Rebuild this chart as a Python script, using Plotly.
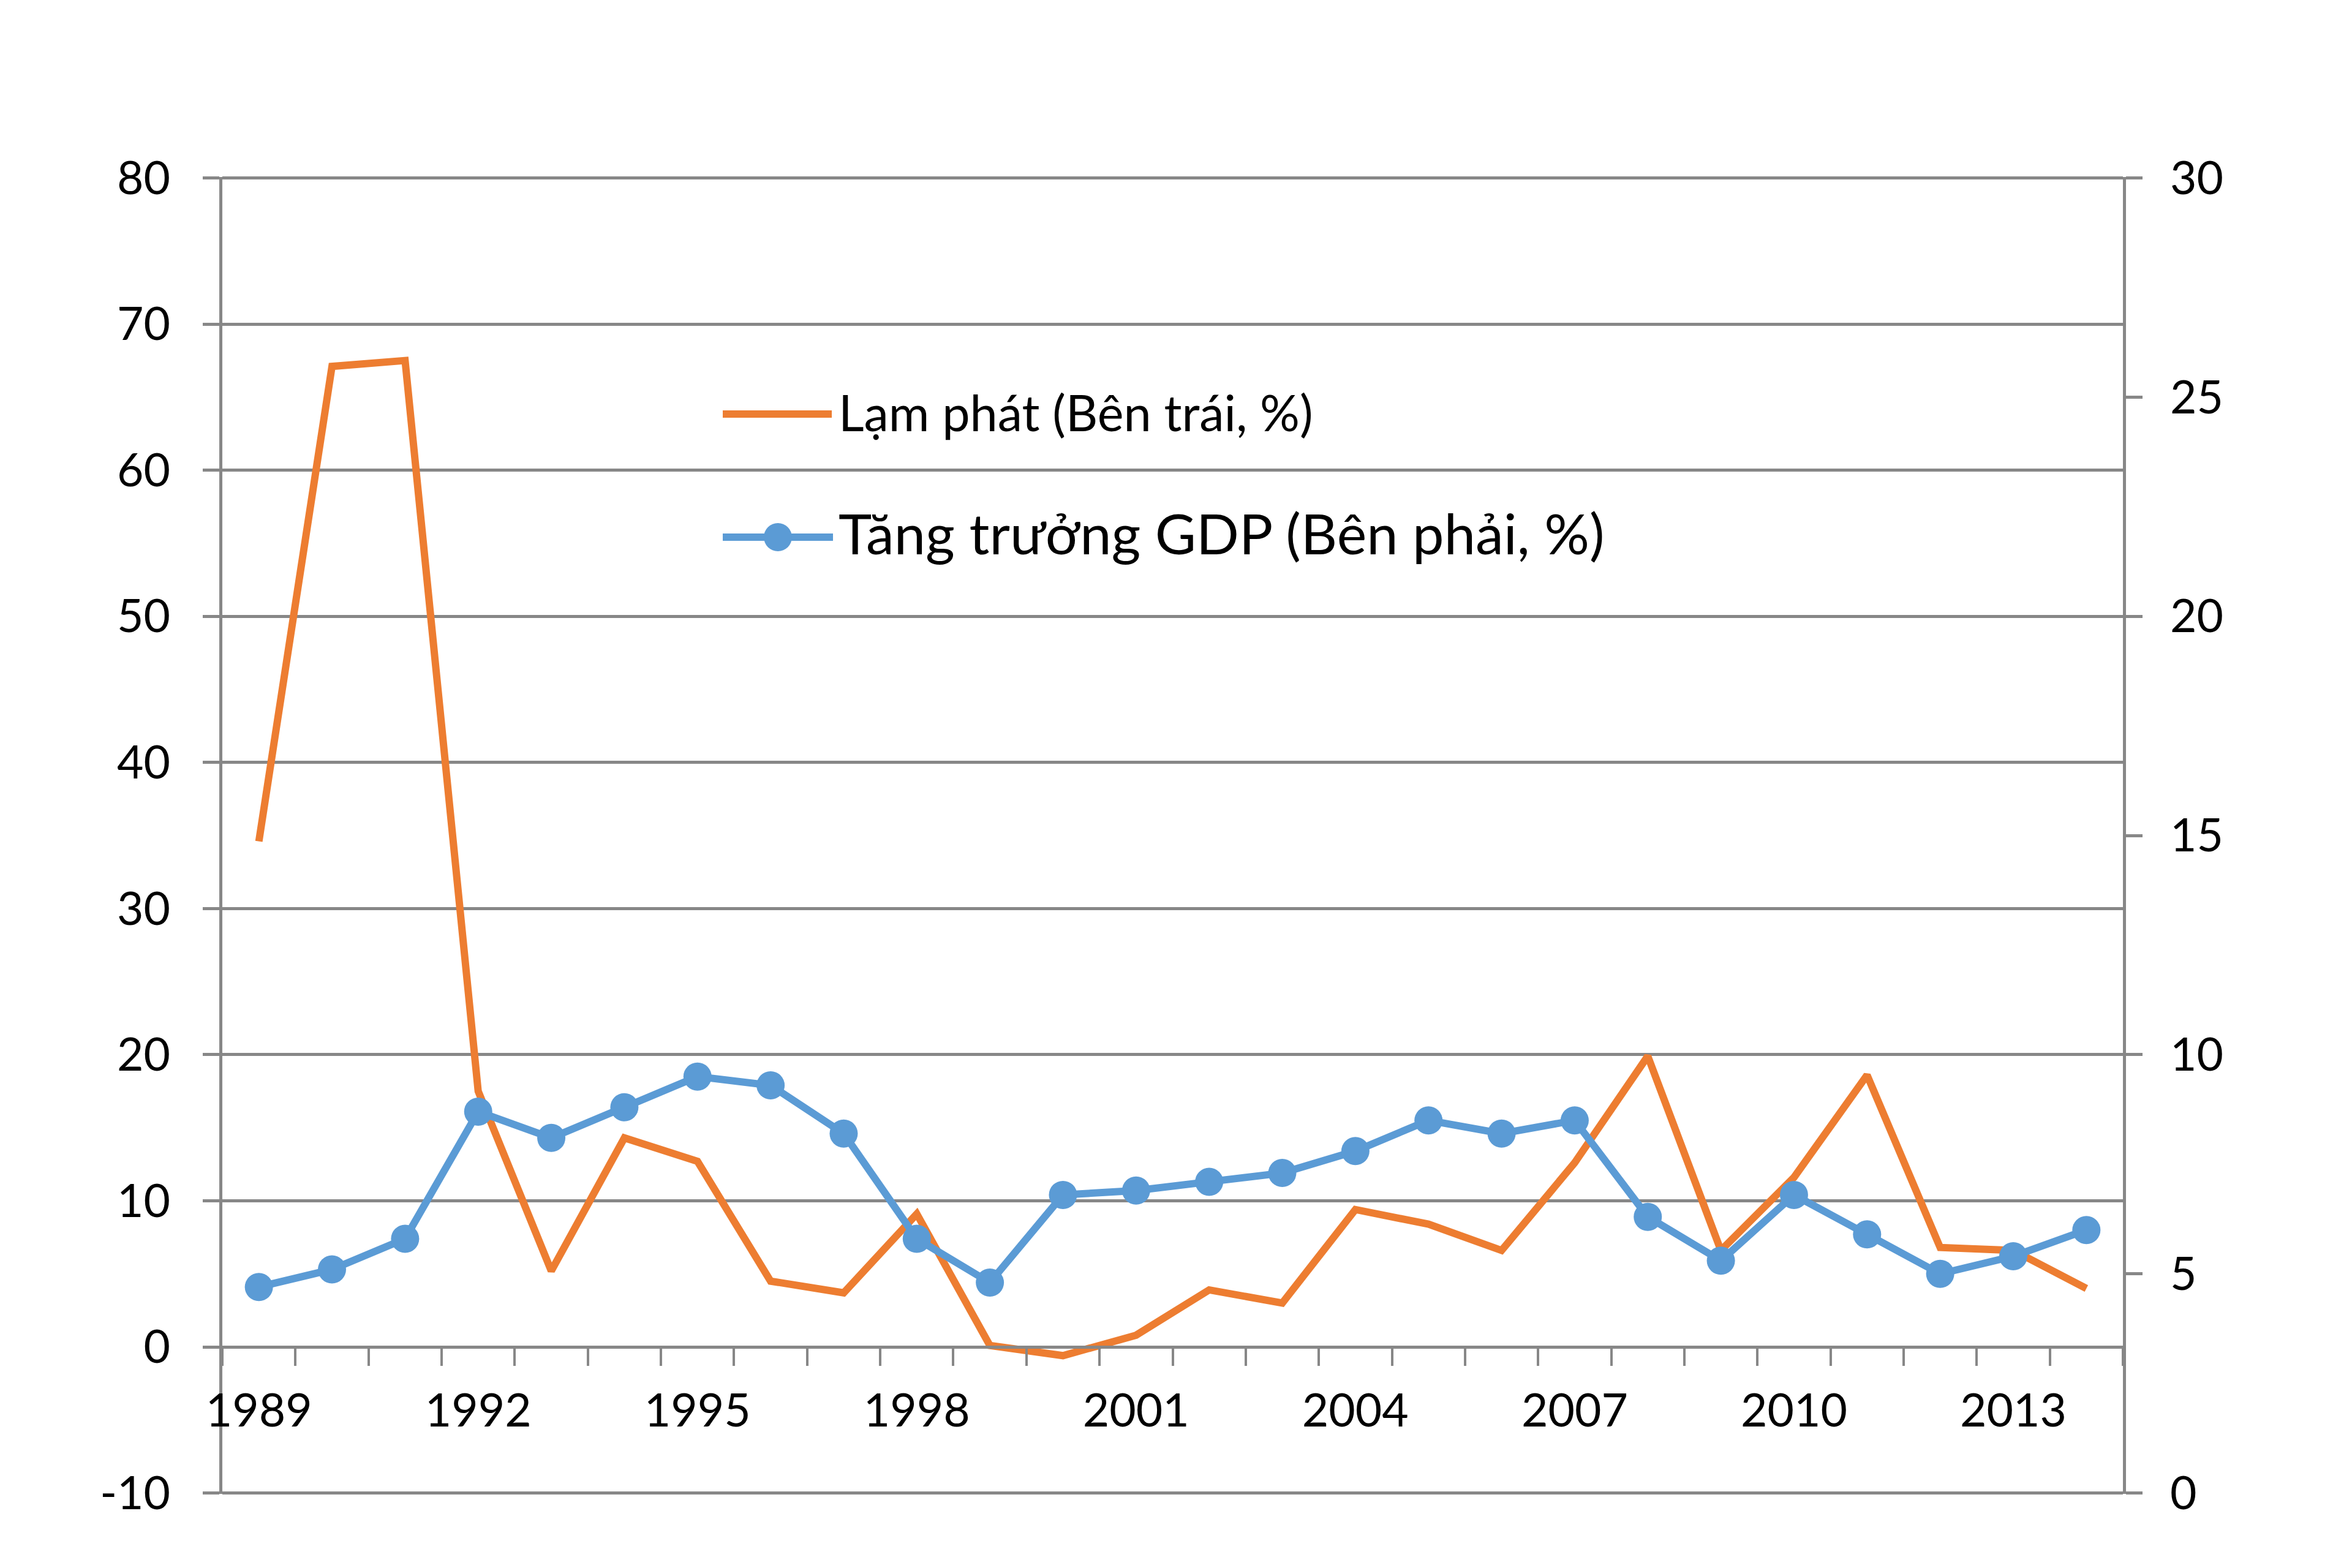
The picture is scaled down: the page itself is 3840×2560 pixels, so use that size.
import plotly.graph_objects as go

# ---------------- data ----------------
years = list(range(1989, 2015))
inflation = [34.6, 67.1, 67.5, 17.5, 5.2, 14.3, 12.7, 4.5, 3.7, 9.1, 0.1, -0.6,
             0.8, 3.9, 3.0, 9.4, 8.4, 6.6, 12.6, 19.9, 6.6, 11.6, 18.6, 6.8, 6.6, 4.0]
gdp = [4.7, 5.1, 5.8, 8.7, 8.1, 8.8, 9.5, 9.3, 8.2, 5.8, 4.8, 6.8,
       6.9, 7.1, 7.3, 7.8, 8.5, 8.2, 8.5, 6.3, 5.3, 6.8, 5.9, 5.0, 5.4, 6.0]
name_infl = "Lạm phát (Bên trái, %)"
name_gdp = "Tăng trưởng GDP (Bên phải, %)"
xtick_vals = [1989, 1992, 1995, 1998, 2001, 2004, 2007, 2010, 2013]
xtick_text = [str(v) for v in xtick_vals]
ytick_vals = [-10, 0, 10, 20, 30, 40, 50, 60, 70, 80]
ytick_text = [str(v) for v in ytick_vals]
y2tick_vals = [0, 5, 10, 15, 20, 25, 30]
y2tick_text = [str(v) for v in y2tick_vals]

# ---------------- style ----------------
W, H = 3840, 2560
ML, MR, MT, MB = 355, 382, 281, 129
PW, PH = W - ML - MR, H - MT - MB
ORANGE = "#ED7D31"
BLUE = "#5B9BD5"
GRID = "#878787"
FONT = "Lato"
TICKFONT = dict(family=FONT, size=75, color="#000000")
EPS = 0.06  # tiny padding so the edge gridlines (-10 and 80) are drawn


def px2paper(x, y):
    return (x - ML) / PW, (H - MB - y) / PH


fig = go.Figure()
fig.add_trace(go.Scatter(x=years, y=inflation, name=name_infl, mode="lines",
                         line=dict(color=ORANGE, width=12), yaxis="y",
                         showlegend=False))
fig.add_trace(go.Scatter(x=years, y=gdp, name=name_gdp, mode="lines+markers",
                         line=dict(color=BLUE, width=12),
                         marker=dict(color=BLUE, size=46), yaxis="y2",
                         showlegend=False))

yr = [-10 - EPS, 80 + EPS]
y2r = [(v + 10) / 3 for v in yr]

fig.update_layout(
    width=W, height=H,
    margin=dict(l=ML, r=MR, t=MT, b=MB, pad=0),
    paper_bgcolor="white", plot_bgcolor="white",
    font=dict(family=FONT, color="#000000"),
    xaxis=dict(
        range=[1988.5, 2014.5], tickmode="array", tickvals=xtick_vals,
        ticktext=xtick_text, ticks="", showgrid=False, zeroline=False,
        showline=True, linecolor=GRID, linewidth=5,
        anchor="free", position=(0 - yr[0]) / (yr[1] - yr[0]),
        tickfont=TICKFONT, ticklabelstandoff=37,
        minor=dict(tickmode="linear", tick0=1988.5, dtick=1, ticks="outside",
                   ticklen=28, tickwidth=4, tickcolor=GRID, showgrid=False),
    ),
    yaxis=dict(
        range=yr, tickmode="array", tickvals=ytick_vals, ticktext=ytick_text,
        showgrid=True, gridcolor=GRID,
        gridwidth=5, zeroline=False, showline=True, linecolor=GRID,
        linewidth=5, ticks="outside", ticklen=27, tickwidth=5, tickcolor=GRID,
        tickfont=TICKFONT, ticklabelstandoff=38,
    ),
    yaxis2=dict(
        range=y2r, tickmode="array", tickvals=y2tick_vals, ticktext=y2tick_text,
        overlaying="y", side="right",
        showgrid=False, zeroline=False, showline=True, linecolor=GRID,
        linewidth=5, ticks="outside", ticklen=27, tickwidth=5, tickcolor=GRID,
        tickfont=TICKFONT, ticklabelstandoff=30,
    ),
)

# ---------------- legend (drawn manually for long sample lines) ----------------
shapes = []
annots = []
# orange entry
x0, y0 = px2paper(1172, 668)
x1, _ = px2paper(1350, 668)
shapes.append(dict(type="line", xref="paper", yref="paper", x0=x0, x1=x1,
                   y0=y0, y1=y0, line=dict(color=ORANGE, width=12)))
tx, ty = px2paper(1359, 664)
annots.append(dict(xref="paper", yref="paper", x=tx, y=ty, text=name_infl,
                   showarrow=False, xanchor="left", yanchor="middle",
                   font=dict(family=FONT, size=81, color="#000000")))
# blue entry
x0, y0 = px2paper(1172, 869)
x1, _ = px2paper(1352, 869)
shapes.append(dict(type="line", xref="paper", yref="paper", x0=x0, x1=x1,
                   y0=y0, y1=y0, line=dict(color=BLUE, width=12)))
cx0, cy0 = px2paper(1262 - 23, 869 - 23)
cx1, cy1 = px2paper(1262 + 23, 869 + 23)
shapes.append(dict(type="circle", xref="paper", yref="paper", x0=cx0, x1=cx1,
                   y0=cy1, y1=cy0, fillcolor=BLUE, line=dict(color=BLUE, width=0)))
tx, ty = px2paper(1359, 862)
annots.append(dict(xref="paper", yref="paper", x=tx, y=ty, text=name_gdp,
                   showarrow=False, xanchor="left", yanchor="middle",
                   font=dict(family=FONT, size=92, color="#000000")))

fig.update_layout(shapes=shapes, annotations=annots)

fig.write_html("out.html")
